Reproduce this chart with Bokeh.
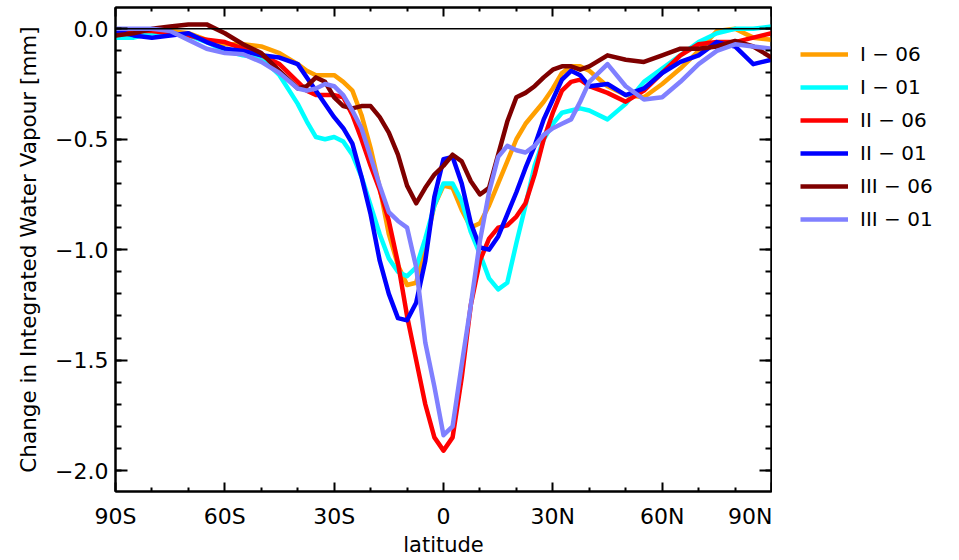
from bokeh.plotting import figure
from bokeh.models import FixedTicker, LinearAxis, Span, Legend, LegendItem, Range1d
from bokeh.layouts import row
from bokeh.embed import file_html
from bokeh.resources import INLINE

lat = [-90, -85, -80, -75, -70, -65, -60, -55, -50, -45, -40,
       -37.5, -35, -32.5, -30, -27.5, -25, -22.5, -20, -17.5, -15,
       -12.5, -10, -7.5, -5, -2.5, 0, 2.5, 5, 7.5, 10,
       12.5, 15, 17.5, 20, 22.5, 25, 27.5, 30, 32.5, 35, 37.5, 40,
       45, 50, 55, 60, 65, 70, 75, 80, 85, 90]

I_06 = [-0.02, -0.02, -0.01, -0.01, -0.02, -0.05, -0.07, -0.07, -0.08, -0.11, -0.16,
        -0.19, -0.21, -0.21, -0.21, -0.24, -0.28, -0.39, -0.54, -0.72, -0.93,
        -1.07, -1.16, -1.15, -0.98, -0.80, -0.71, -0.72, -0.82, -0.90, -0.88,
        -0.80, -0.70, -0.60, -0.50, -0.43, -0.38, -0.33, -0.27, -0.20, -0.17, -0.17, -0.19,
        -0.26, -0.30, -0.31, -0.25, -0.18, -0.10, -0.01, 0.00, -0.04, -0.05]

I_01 = [-0.04, -0.04, -0.02, -0.02, -0.03, -0.06, -0.10, -0.12, -0.13, -0.21, -0.34,
        -0.42, -0.49, -0.50, -0.49, -0.51, -0.57, -0.67, -0.80, -0.93, -1.04,
        -1.10, -1.12, -1.08, -0.95, -0.80, -0.70, -0.70, -0.78, -0.92, -1.02,
        -1.13, -1.18, -1.15, -0.97, -0.80, -0.62, -0.50, -0.43, -0.38, -0.37, -0.36, -0.37,
        -0.41, -0.34, -0.24, -0.18, -0.12, -0.06, -0.02, 0.00, 0.00, 0.01]

II_06 = [-0.03, -0.01, -0.01, -0.02, -0.03, -0.05, -0.06, -0.09, -0.12, -0.16, -0.24,
         -0.28, -0.30, -0.30, -0.30, -0.31, -0.39, -0.50, -0.62, -0.73, -0.87,
         -1.06, -1.30, -1.50, -1.70, -1.85, -1.91, -1.85, -1.58, -1.25, -1.05,
         -0.95, -0.90, -0.89, -0.85, -0.79, -0.66, -0.50, -0.38, -0.28, -0.24, -0.23, -0.26,
         -0.29, -0.33, -0.28, -0.20, -0.12, -0.07, -0.06, -0.06, -0.04, -0.02]

II_01 = [-0.01, -0.03, -0.04, -0.03, -0.02, -0.06, -0.09, -0.10, -0.12, -0.13, -0.16,
         -0.22, -0.28, -0.34, -0.40, -0.45, -0.52, -0.67, -0.84, -1.05, -1.20,
         -1.31, -1.32, -1.24, -1.05, -0.76, -0.59, -0.58, -0.70, -0.88, -0.99,
         -1.00, -0.94, -0.84, -0.74, -0.63, -0.53, -0.41, -0.32, -0.23, -0.19, -0.21, -0.26,
         -0.25, -0.30, -0.27, -0.20, -0.15, -0.12, -0.06, -0.08, -0.16, -0.14]

III_06 = [-0.03, -0.02, 0.00, 0.01, 0.02, 0.02, -0.02, -0.07, -0.11, -0.19, -0.27,
          -0.26, -0.22, -0.24, -0.31, -0.35, -0.36, -0.35, -0.35, -0.40, -0.47,
          -0.57, -0.71, -0.79, -0.72, -0.66, -0.62, -0.57, -0.60, -0.69, -0.75,
          -0.72, -0.57, -0.42, -0.31, -0.29, -0.26, -0.22, -0.185, -0.17, -0.17, -0.185, -0.17,
          -0.12, -0.14, -0.15, -0.12, -0.09, -0.09, -0.08, -0.055, -0.08, -0.13]

III_01 = [0.00, 0.00, 0.00, -0.01, -0.05, -0.09, -0.11, -0.115, -0.15, -0.20, -0.27,
          -0.28, -0.27, -0.25, -0.26, -0.30, -0.37, -0.45, -0.58, -0.71, -0.83,
          -0.87, -0.90, -1.08, -1.42, -1.62, -1.84, -1.80, -1.52, -1.25, -0.96,
          -0.74, -0.58, -0.53, -0.55, -0.56, -0.53, -0.48, -0.45, -0.43, -0.41, -0.33, -0.24,
          -0.16, -0.26, -0.32, -0.31, -0.24, -0.16, -0.10, -0.07, -0.08, -0.09]

series_names = ["I \u2212 06", "I \u2212 01", "II \u2212 06", "II \u2212 01", "III \u2212 06", "III \u2212 01"]
series_colors = ["#FF9F00", "#00FFFF", "#FF0000", "#0000FF", "#7F0000", "#8080FF"]
series_values = [I_06, I_01, II_06, II_01, III_06, III_01]

x_ticks = [-90, -60, -30, 0, 30, 60, 90]
x_labels = ["90S", "60S", "30S", "0", "30N", "60N", "90N"]
x_minor = [-80, -70, -50, -40, -20, -10, 10, 20, 40, 50, 70, 80]
y_ticks = [-2.0, -1.5, -1.0, -0.5, 0.0]
y_labels = ["\u22122.0", "\u22121.5", "\u22121.0", "\u22120.5", "0.0"]
y_minor = [round(-2.1 + 0.1 * i, 1) for i in range(23)]

FONT = "DejaVu Sans"

p = figure(frame_width=656, frame_height=484,
           min_border_left=115, min_border_right=1, min_border_top=7, min_border_bottom=10,
           x_range=Range1d(-90, 90), y_range=Range1d(-2.095, 0.0965),
           output_backend="svg", toolbar_location=None)
p.xgrid.visible = False
p.ygrid.visible = False
p.outline_line_color = "black"
p.outline_line_width = 2
p.background_fill_color = "white"
p.border_fill_color = "white"

xt = FixedTicker(ticks=x_ticks, minor_ticks=x_minor)
yt = FixedTicker(ticks=y_ticks, minor_ticks=y_minor)

def style_axis(ax, major_in, minor_in):
    ax.axis_line_color = "black"
    ax.axis_line_width = 2
    ax.major_tick_line_color = "black"
    ax.minor_tick_line_color = "black"
    ax.major_tick_line_width = 2
    ax.minor_tick_line_width = 2
    ax.major_tick_in = major_in
    ax.major_tick_out = 0
    ax.minor_tick_in = minor_in
    ax.minor_tick_out = 0
    ax.major_label_text_font = FONT
    ax.major_label_text_color = "black"
    ax.axis_label_text_font = FONT
    ax.axis_label_text_font_style = "normal"
    ax.axis_label_text_color = "black"

xa = p.xaxis[0]
xa.ticker = xt
xa.major_label_overrides = {t: l for t, l in zip(x_ticks, x_labels)}
style_axis(xa, 9, 4)
xa.major_label_text_font_size = "22px"
xa.major_label_standoff = 12
xa.axis_label = "latitude"
xa.axis_label_text_font_size = "21px"
xa.axis_label_standoff = 1

ya = p.yaxis[0]
ya.ticker = yt
ya.major_label_overrides = {t: l for t, l in zip(y_ticks, y_labels)}
style_axis(ya, 12, 6)
ya.major_label_text_font_size = "22px"
ya.major_label_standoff = 7
ya.axis_label = "Change in Integrated Water Vapour [mm]"
ya.axis_label_text_font_size = "21.5px"
ya.axis_label_standoff = 11

top = LinearAxis(ticker=xt)
style_axis(top, 9, 4)
top.major_label_text_color = None
top.major_label_text_font_size = "1px"
top.major_label_standoff = 0
p.add_layout(top, "above")

right = LinearAxis(ticker=yt)
style_axis(right, 12, 6)
right.major_label_text_color = None
right.major_label_text_font_size = "1px"
right.major_label_standoff = 0
p.add_layout(right, "right")

p.add_layout(Span(location=0, dimension="width", line_color="black", line_width=1.5))

for color, ys in zip(series_colors, series_values):
    p.line(lat, ys, line_color=color, line_width=4.5, line_join="round")

# legend panel to the right of the plot (its lines lie outside its own view ranges)
q = figure(width=186, height=556, x_range=Range1d(0, 1), y_range=Range1d(10, 11),
           min_border=0, x_axis_location=None, y_axis_location=None,
           output_backend="svg", toolbar_location=None)
q.outline_line_color = None
q.background_fill_color = "white"
q.border_fill_color = "white"
q.grid.visible = False

items = []
for name, color, ys in zip(series_names, series_colors, series_values):
    r = q.line(lat, ys, line_color=color, line_width=4.5)
    items.append(LegendItem(label=name, renderers=[r]))

legend = Legend(items=items, location=(28, 253), border_line_color=None,
                background_fill_alpha=0, padding=0, margin=0,
                glyph_width=48, glyph_height=32, label_height=32, spacing=1,
                label_standoff=12, label_text_font=FONT, label_text_font_size="20px",
                label_text_color="black")
q.add_layout(legend, "center")

layout = row(p, q, spacing=0)

open("out.html", "w").write(file_html(layout, INLINE))
